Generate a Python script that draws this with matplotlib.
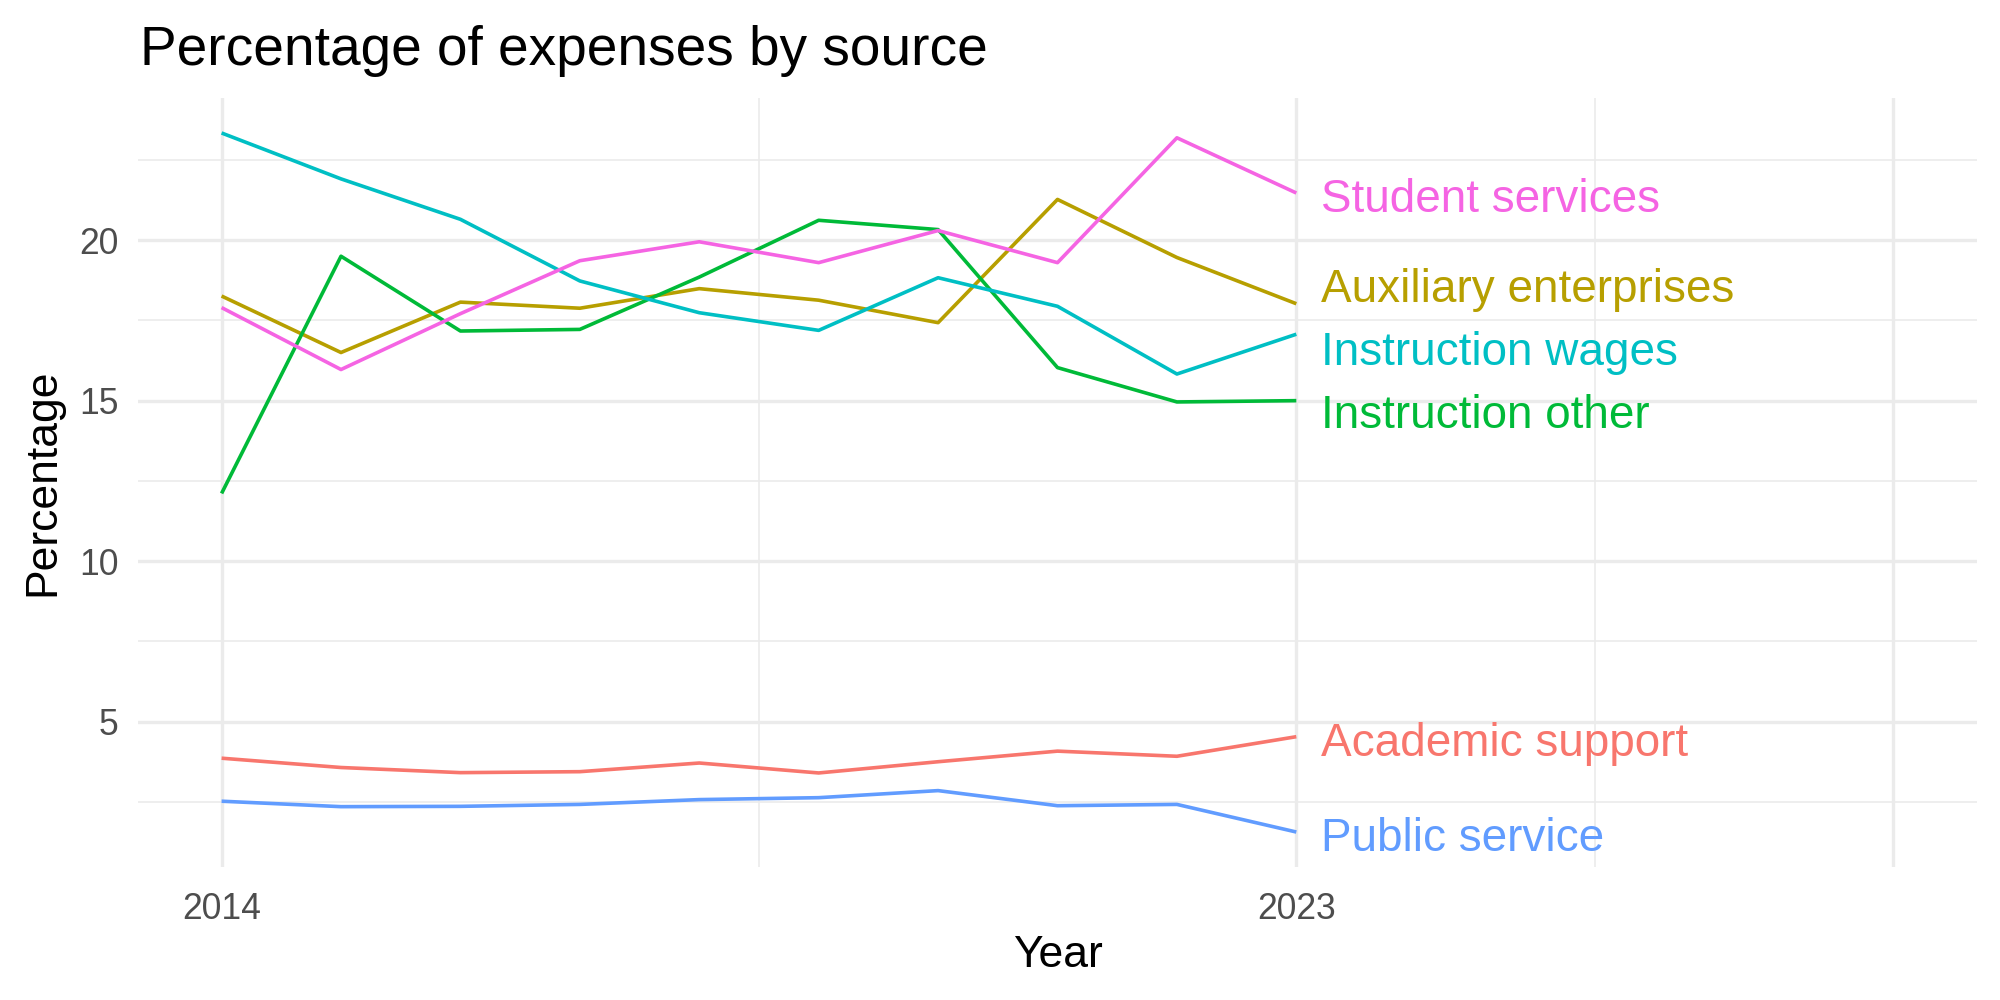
import matplotlib
matplotlib.use("Agg")
import matplotlib.pyplot as plt
import matplotlib.transforms as mtransforms

plt.rcParams['font.family'] = ['Liberation Sans', 'DejaVu Sans']

years = [2014, 2015, 2016, 2017, 2018, 2019, 2020, 2021, 2022, 2023]

academic_support = [3.86, 3.57, 3.41, 3.44, 3.71, 3.40, 3.75, 4.08, 3.92, 4.53]
auxiliary_enterprises = [18.26, 16.50, 18.07, 17.88, 18.49, 18.13, 17.43, 21.27, 19.46, 18.02]
instruction_other = [12.11, 19.50, 17.17, 17.22, 18.85, 20.62, 20.33, 16.03, 14.96, 15.00]
instruction_wages = [23.34, 21.91, 20.65, 18.73, 17.74, 17.19, 18.83, 17.94, 15.83, 17.07]
public_service = [2.52, 2.35, 2.36, 2.42, 2.57, 2.63, 2.85, 2.38, 2.42, 1.56]
student_services = [17.90, 15.97, 17.71, 19.36, 19.95, 19.30, 20.30, 19.30, 23.19, 21.47]

series_names = ["Academic support", "Auxiliary enterprises", "Instruction other",
                "Instruction wages", "Public service", "Student services"]
series_values = [academic_support, auxiliary_enterprises, instruction_other,
                 instruction_wages, public_service, student_services]
series_colors = ["#F8766D", "#B79F00", "#00BA38", "#00BFC4", "#619CFF", "#F564E3"]
# label vertical positions (repelled in the original)
label_y = [4.49, 18.63, 14.71, 16.67, 1.53, 21.42]

x_major = [2014, 2023, 2028]
x_tick_labels = ["2014", "2023", ""]
x_minor = [2018.5, 2025.5]
y_major = [5, 10, 15, 20]
y_minor = [2.5, 7.5, 12.5, 17.5, 22.5]

fig = plt.figure(figsize=(10, 5), dpi=200)
ax = fig.add_axes([0.069, 0.133, 0.9195, 0.769])
ax.set_xlim(2013.3, 2028.7)
ax.set_ylim(0.47, 24.43)

grid_c = "#EBEBEB"
for xv in x_major:
    ax.axvline(xv, color=grid_c, lw=1.2, zorder=0)
for xv in x_minor:
    ax.axvline(xv, color=grid_c, lw=0.6, zorder=0)
for yv in y_major:
    ax.axhline(yv, color=grid_c, lw=1.2, zorder=0)
for yv in y_minor:
    ax.axhline(yv, color=grid_c, lw=0.6, zorder=0)

label_tr = mtransforms.offset_copy(ax.transData, fig=fig, x=0, y=-2.0, units='points')
for name, vals, col, ly in zip(series_names, series_values, series_colors, label_y):
    ax.plot(years, vals, color=col, lw=1.3, zorder=2, solid_capstyle='butt')
    ax.text(years[-1] + 0.21, ly, name, color=col, fontsize=16.5,
            ha='left', va='center', zorder=3, transform=label_tr)

for s in ax.spines.values():
    s.set_visible(False)
ax.set_xticks(x_major)
ax.set_xticklabels(x_tick_labels)
ax.set_yticks(y_major)
ax.set_yticklabels([str(v) for v in y_major])
ax.tick_params(axis='both', length=0, labelsize=12.8, labelcolor="#4D4D4D")
ax.tick_params(axis='x', pad=9)
ax.tick_params(axis='y', pad=7)

ax.set_xlabel("Year", fontsize=16, color="black", labelpad=3)
ax.set_ylabel("Percentage", fontsize=16, color="black", labelpad=5.5)

fig.text(0.07, 0.935, "Percentage of expenses by source", fontsize=19.8,
         color="black", ha='left', va='baseline')

fig.savefig("out.png", dpi=200, facecolor="white")
